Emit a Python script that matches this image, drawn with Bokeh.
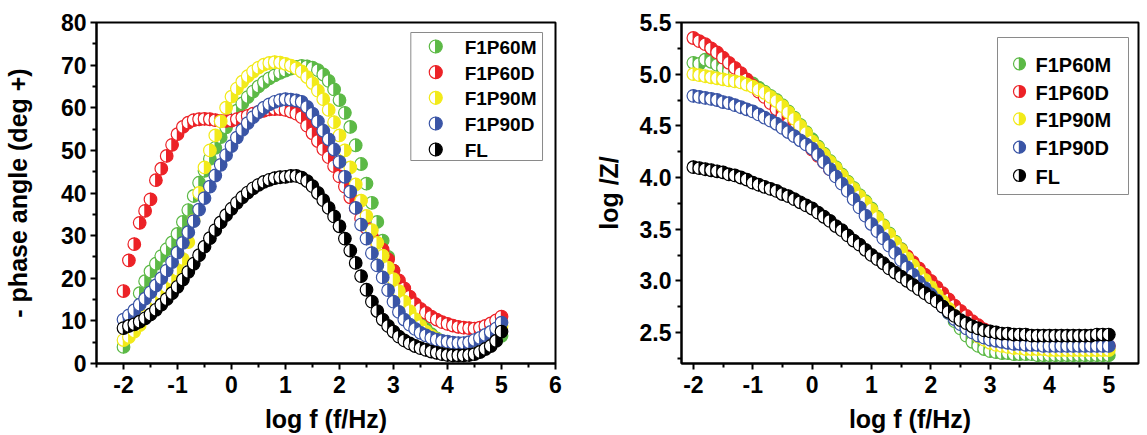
import math
from bokeh.plotting import figure
from bokeh.layouts import row
from bokeh.models import Range1d, FixedTicker, Label, ColumnDataSource, PrintfTickFormatter
from bokeh.embed import file_html
from bokeh.resources import INLINE

FONT = "Liberation Sans"

# ---------------- data ----------------
log_f = [-2.0, -1.9, -1.8, -1.7, -1.6, -1.5, -1.4, -1.3, -1.2, -1.1,
         -1.0, -0.9, -0.8, -0.7, -0.6, -0.5, -0.4, -0.3, -0.2, -0.1,
         0.0, 0.1, 0.2, 0.3, 0.4, 0.5, 0.6, 0.7, 0.8, 0.9,
         1.0, 1.1, 1.2, 1.3, 1.4, 1.5, 1.6, 1.7, 1.8, 1.9,
         2.0, 2.1, 2.2, 2.3, 2.4, 2.5, 2.6, 2.7, 2.8, 2.9,
         3.0, 3.1, 3.2, 3.3, 3.4, 3.5, 3.6, 3.7, 3.8, 3.9,
         4.0, 4.1, 4.2, 4.3, 4.4, 4.5, 4.6, 4.7, 4.8, 4.9,
         5.0]

series_names = ["F1P60M", "F1P60D", "F1P90M", "F1P90D", "FL"]
series_colors = ["#5cb946", "#ec2227", "#f2ea1a", "#3a55a6", "#000000"]

phase_F1P60M = [3.9, 7.0, 12.0, 16.5, 19.3, 21.6, 23.4, 25.2, 26.8, 28.4,
                30.4, 33.2, 36.0, 39.3, 42.4, 45.2, 48.0, 50.6, 53.1, 55.4,
                57.5, 59.3, 61.0, 62.5, 63.8, 65.0, 66.0, 66.9, 67.6, 68.2,
                68.7, 69.2, 69.6, 69.8, 69.7, 69.4, 68.8, 67.8, 66.3, 64.3,
                61.8, 58.8, 55.5, 51.2, 46.8, 42.2, 37.7, 33.2, 28.8, 25.0,
                21.8, 18.8, 16.0, 13.5, 11.4, 9.6, 8.1, 6.9, 5.9, 5.1,
                4.5, 4.0, 3.7, 3.5, 3.5, 3.6, 3.9, 4.3, 4.8, 5.5,
                6.5]
phase_F1P60D = [17.0, 24.2, 28.0, 33.0, 35.8, 38.5, 43.0, 45.7, 48.7, 51.3,
                53.8, 55.5, 56.5, 57.1, 57.3, 57.4, 57.3, 57.1, 56.9, 56.9,
                57.0, 57.3, 57.7, 58.1, 58.6, 59.0, 59.3, 59.6, 59.7, 59.7,
                59.5, 59.1, 58.6, 57.8, 55.8, 54.0, 52.2, 50.3, 48.4, 46.3,
                43.9, 41.5, 39.0, 36.5, 34.0, 31.8, 29.9, 28.0, 26.7, 24.4,
                21.8, 19.5, 17.6, 15.7, 14.0, 12.8, 11.9, 11.0, 10.3, 9.7,
                9.3, 8.9, 8.6, 8.4, 8.3, 8.2, 8.4, 8.8, 9.4, 10.1,
                11.0]
phase_F1P90M = [5.5, 6.2, 7.5, 9.0, 11.0, 13.0, 15.0, 16.5, 18.0, 20.0,
                22.0, 24.5, 28.5, 33.5, 40.0, 46.0, 50.0, 53.5, 56.8, 60.0,
                62.6, 64.5, 66.1, 67.4, 68.5, 69.4, 70.1, 70.5, 70.7, 70.6,
                70.3, 69.9, 69.3, 68.5, 67.2, 65.8, 64.0, 62.0, 59.5, 56.6,
                53.5, 50.0, 46.0, 42.0, 38.2, 34.6, 31.3, 28.3, 25.3, 22.5,
                19.8, 17.0, 14.5, 12.3, 10.4, 8.8, 7.5, 6.5, 5.7, 5.1,
                4.6, 4.3, 4.1, 4.0, 4.1, 4.4, 4.9, 5.6, 6.4, 7.4,
                8.8]
phase_F1P90D = [10.3, 11.3, 12.5, 13.8, 15.2, 16.7, 18.3, 20.0, 21.8, 23.8,
                26.0, 28.3, 30.8, 33.4, 36.1, 38.8, 41.5, 44.1, 46.6, 48.9,
                51.0, 53.0, 54.8, 56.4, 57.8, 59.0, 60.0, 60.8, 61.4, 61.8,
                62.0, 61.9, 61.7, 61.4, 60.2, 58.6, 56.8, 54.6, 52.6, 50.2,
                47.3, 43.8, 40.3, 36.5, 32.6, 29.3, 25.9, 23.0, 20.2, 17.2,
                14.5, 12.1, 10.3, 9.1, 8.1, 7.2, 6.6, 6.0, 5.6, 5.3,
                5.1, 4.9, 4.8, 4.8, 5.0, 5.5, 6.0, 6.7, 7.4, 8.2,
                9.6]
phase_FL = [8.3, 8.8, 9.2, 9.8, 10.6, 11.5, 12.6, 13.8, 15.1, 16.5,
            18.0, 19.7, 21.5, 23.4, 25.4, 27.4, 29.4, 31.3, 33.1, 34.8,
            36.3, 37.7, 39.0, 40.1, 41.1, 41.9, 42.6, 43.1, 43.5, 43.7,
            43.8, 44.0, 44.0, 43.6, 42.8, 41.6, 40.0, 38.3, 36.5, 34.5,
            32.2, 29.3, 26.5, 23.6, 20.5, 17.3, 14.5, 12.3, 10.3, 8.8,
            7.5, 6.3, 5.4, 4.7, 4.1, 3.6, 3.2, 2.8, 2.5, 2.2,
            2.0, 1.9, 1.9, 1.9, 2.0, 2.2, 2.7, 3.4, 4.1, 5.3,
            7.5]

logZ_F1P60M = [5.11, 5.10, 5.14, 5.12, 5.09, 5.06, 5.03, 5.00, 4.97, 4.94,
               4.91, 4.87, 4.83, 4.79, 4.75, 4.70, 4.64, 4.58, 4.51, 4.44,
               4.37, 4.30, 4.23, 4.16, 4.10, 4.03, 3.96, 3.90, 3.83, 3.77,
               3.70, 3.62, 3.54, 3.46, 3.38, 3.31, 3.23, 3.16, 3.08, 3.01,
               2.93, 2.85, 2.77, 2.69, 2.61, 2.54, 2.47, 2.41, 2.37, 2.34,
               2.32, 2.31, 2.30, 2.30, 2.29, 2.29, 2.29, 2.29, 2.28, 2.28,
               2.28, 2.28, 2.28, 2.28, 2.28, 2.28, 2.28, 2.28, 2.28, 2.28,
               2.28]
logZ_F1P60D = [5.35, 5.32, 5.29, 5.25, 5.21, 5.16, 5.11, 5.06, 5.01, 4.95,
               4.89, 4.83, 4.78, 4.72, 4.66, 4.59, 4.52, 4.46, 4.39, 4.33,
               4.27, 4.21, 4.15, 4.08, 4.02, 3.95, 3.89, 3.82, 3.75, 3.69,
               3.62, 3.55, 3.49, 3.42, 3.36, 3.30, 3.24, 3.18, 3.12, 3.06,
               3.00, 2.94, 2.88, 2.82, 2.76, 2.71, 2.66, 2.61, 2.57, 2.53,
               2.50, 2.47, 2.45, 2.43, 2.42, 2.41, 2.40, 2.39, 2.39, 2.38,
               2.38, 2.38, 2.37, 2.37, 2.37, 2.37, 2.37, 2.37, 2.37, 2.37,
               2.37]
logZ_F1P90M = [5.00, 4.99, 4.98, 4.97, 4.96, 4.95, 4.94, 4.93, 4.92, 4.90,
               4.88, 4.85, 4.82, 4.78, 4.74, 4.69, 4.63, 4.57, 4.50, 4.43,
               4.35, 4.29, 4.22, 4.15, 4.09, 4.02, 3.95, 3.89, 3.82, 3.76,
               3.69, 3.61, 3.53, 3.45, 3.37, 3.30, 3.22, 3.15, 3.08, 3.01,
               2.94, 2.87, 2.80, 2.73, 2.66, 2.60, 2.55, 2.50, 2.46, 2.43,
               2.40, 2.38, 2.37, 2.36, 2.35, 2.35, 2.34, 2.34, 2.34, 2.34,
               2.33, 2.33, 2.33, 2.33, 2.33, 2.33, 2.33, 2.33, 2.33, 2.33,
               2.33]
logZ_F1P90D = [4.79, 4.78, 4.77, 4.76, 4.75, 4.73, 4.72, 4.70, 4.68, 4.66,
               4.64, 4.61, 4.58, 4.55, 4.52, 4.48, 4.44, 4.40, 4.36, 4.32,
               4.28, 4.22, 4.15, 4.08, 4.01, 3.94, 3.87, 3.79, 3.71, 3.63,
               3.55, 3.48, 3.41, 3.34, 3.27, 3.20, 3.13, 3.06, 2.99, 2.93,
               2.87, 2.81, 2.75, 2.69, 2.63, 2.58, 2.54, 2.50, 2.47, 2.45,
               2.43, 2.42, 2.41, 2.40, 2.39, 2.39, 2.38, 2.38, 2.38, 2.37,
               2.37, 2.37, 2.37, 2.37, 2.37, 2.37, 2.37, 2.37, 2.37, 2.37,
               2.37]
logZ_FL = [4.10, 4.09, 4.08, 4.07, 4.06, 4.05, 4.03, 4.02, 4.00, 3.98,
           3.95, 3.93, 3.91, 3.89, 3.87, 3.84, 3.82, 3.79, 3.76, 3.73,
           3.70, 3.66, 3.62, 3.58, 3.53, 3.49, 3.44, 3.39, 3.35, 3.30,
           3.25, 3.21, 3.17, 3.12, 3.08, 3.04, 3.00, 2.96, 2.92, 2.88,
           2.84, 2.80, 2.75, 2.70, 2.66, 2.62, 2.59, 2.56, 2.54, 2.52,
           2.51, 2.50, 2.49, 2.49, 2.48, 2.48, 2.48, 2.47, 2.47, 2.47,
           2.47, 2.47, 2.47, 2.47, 2.47, 2.47, 2.47, 2.47, 2.48, 2.48,
           2.48]

phase_series = [phase_F1P60M, phase_F1P60D, phase_F1P90M, phase_F1P90D, phase_FL]
logZ_series = [logZ_F1P60M, logZ_F1P60D, logZ_F1P90M, logZ_F1P90D, logZ_FL]

left_xticks = [-2, -1, 0, 1, 2, 3, 4, 5, 6]
left_yticks = [0, 10, 20, 30, 40, 50, 60, 70, 80]
right_xticks = [-2, -1, 0, 1, 2, 3, 4, 5]
right_yticks = [2.5, 3.0, 3.5, 4.0, 4.5, 5.0, 5.5]


# ---------------- helpers ----------------
def half_source(xs, ys, color):
    X, Y, SA, EA, FC = [], [], [], [], []
    for x, y in zip(xs, ys):
        X += [x, x]
        Y += [y, y]
        SA += [math.pi / 2, -math.pi / 2]
        EA += [3 * math.pi / 2, math.pi / 2]
        FC += ["white", color]
    return ColumnDataSource(dict(x=X, y=Y, sa=SA, ea=EA, fc=FC))


def half_markers(p, xs, ys, color, radius):
    src = half_source(xs, ys, color)
    return p.wedge(x="x", y="y", radius=radius, radius_units="screen",
                   start_angle="sa", end_angle="ea", fill_color="fc",
                   line_color=color, line_width=1.2, source=src)


def make_fig(width, border_left, border_right, xr, yr):
    p = figure(width=width, height=435, x_range=Range1d(*xr), y_range=Range1d(*yr),
               output_backend="svg", toolbar_location=None,
               min_border_left=border_left, min_border_right=border_right,
               min_border_top=22, min_border_bottom=72)
    p.xgrid.visible = False
    p.ygrid.visible = False
    p.outline_line_color = "black"
    p.outline_line_width = 2
    p.outline_line_alpha = 1
    p.background_fill_color = "white"
    p.border_fill_color = "white"
    for ax in (p.xaxis[0], p.yaxis[0]):
        ax.axis_line_width = 2
        ax.major_tick_line_width = 2
        ax.minor_tick_line_width = 2
        ax.major_tick_out = 6
        ax.major_tick_in = 0
        ax.minor_tick_out = 4
        ax.minor_tick_in = 0
        ax.major_label_text_font = FONT
        ax.major_label_text_font_size = "23px"
        ax.major_label_text_font_style = "bold"
        ax.major_label_text_color = "black"
        ax.axis_label_text_font = FONT
        ax.axis_label_text_font_size = "25px"
        ax.axis_label_text_font_style = "bold"
        ax.axis_label_text_color = "black"
    p.xaxis.major_label_standoff = 6
    p.yaxis.major_label_standoff = 4
    p.xaxis.axis_label = "log f (f/Hz)"
    p.xaxis.axis_label_standoff = 9
    return p


def converters(px_l, px_r, px_t, px_b, xr, yr):
    def fx(px):
        return xr[0] + (px - px_l) / (px_r - px_l) * (xr[1] - xr[0])

    def fy(py):
        return yr[1] - (py - px_t) / (px_b - px_t) * (yr[1] - yr[0])
    return fx, fy


def add_legend(p, fx, fy, box, mx, tx, rows, size, radius):
    l, r, t, b = box
    p.quad(left=[fx(l)], right=[fx(r)], top=[fy(t)], bottom=[fy(b)],
           fill_color="white", line_color="#8a8a8a", line_width=1)
    for name, color, ry in zip(series_names, series_colors, rows):
        half_markers(p, [fx(mx)], [fy(ry)], color, radius)
        p.add_layout(Label(x=fx(tx), y=fy(ry + 1), text=name, text_font=FONT,
                           text_font_size=f"{size}px", text_font_style="bold",
                           text_baseline="middle", text_align="left",
                           text_color="black"))


# ---------------- left chart: phase angle ----------------
XR1, YR1 = (-2.5, 6.0), (0, 80)
p1 = make_fig(580, 95, 25, XR1, YR1)
p1.xaxis.ticker = FixedTicker(ticks=left_xticks,
                              minor_ticks=[-2.5, -1.5, -0.5, 0.5, 1.5, 2.5, 3.5, 4.5, 5.5])
p1.yaxis.ticker = FixedTicker(ticks=left_yticks, minor_ticks=[5, 15, 25, 35, 45, 55, 65, 75])
p1.xaxis.formatter = PrintfTickFormatter(format="%d")
p1.yaxis.formatter = PrintfTickFormatter(format="%d")
p1.yaxis.axis_label = "- phase angle (deg +)"
p1.yaxis.axis_label_standoff = 26
fx1, fy1 = converters(95, 555, 22, 363, XR1, YR1)

for ys, c in zip(phase_series, series_colors):
    half_markers(p1, log_f, ys, c, 6.3)

add_legend(p1, fx1, fy1, (410, 542, 32, 160), 435, 464,
           [46, 71.7, 97.3, 123, 149], 19, 6.5)

# ---------------- right chart: log |Z| ----------------
XR2, YR2 = (-2.2, 5.5), (2.2, 5.5)
p2 = make_fig(567, 101, 9, XR2, YR2)
p2.xaxis.ticker = FixedTicker(ticks=right_xticks,
                              minor_ticks=[-1.5, -0.5, 0.5, 1.5, 2.5, 3.5, 4.5])
p2.yaxis.ticker = FixedTicker(ticks=right_yticks,
                              minor_ticks=[2.25, 2.75, 3.25, 3.75, 4.25, 4.75, 5.25])
p2.xaxis.formatter = PrintfTickFormatter(format="%d")
p2.yaxis.formatter = PrintfTickFormatter(format="%.1f")
p2.yaxis.axis_label = "log /Z/"
p2.yaxis.axis_label_standoff = 14
fx2, fy2 = converters(681, 1138, 22, 363, XR2, YR2)

for ys, c in zip(logZ_series, series_colors):
    half_markers(p2, log_f, ys, c, 6.3)

add_legend(p2, fx2, fy2, (997, 1128, 37, 194), 1019, 1035,
           [63.3, 91, 118.3, 146.7, 175], 20, 6)

layout = row(p1, p2)
open("out.html", "w").write(file_html(layout, INLINE))
